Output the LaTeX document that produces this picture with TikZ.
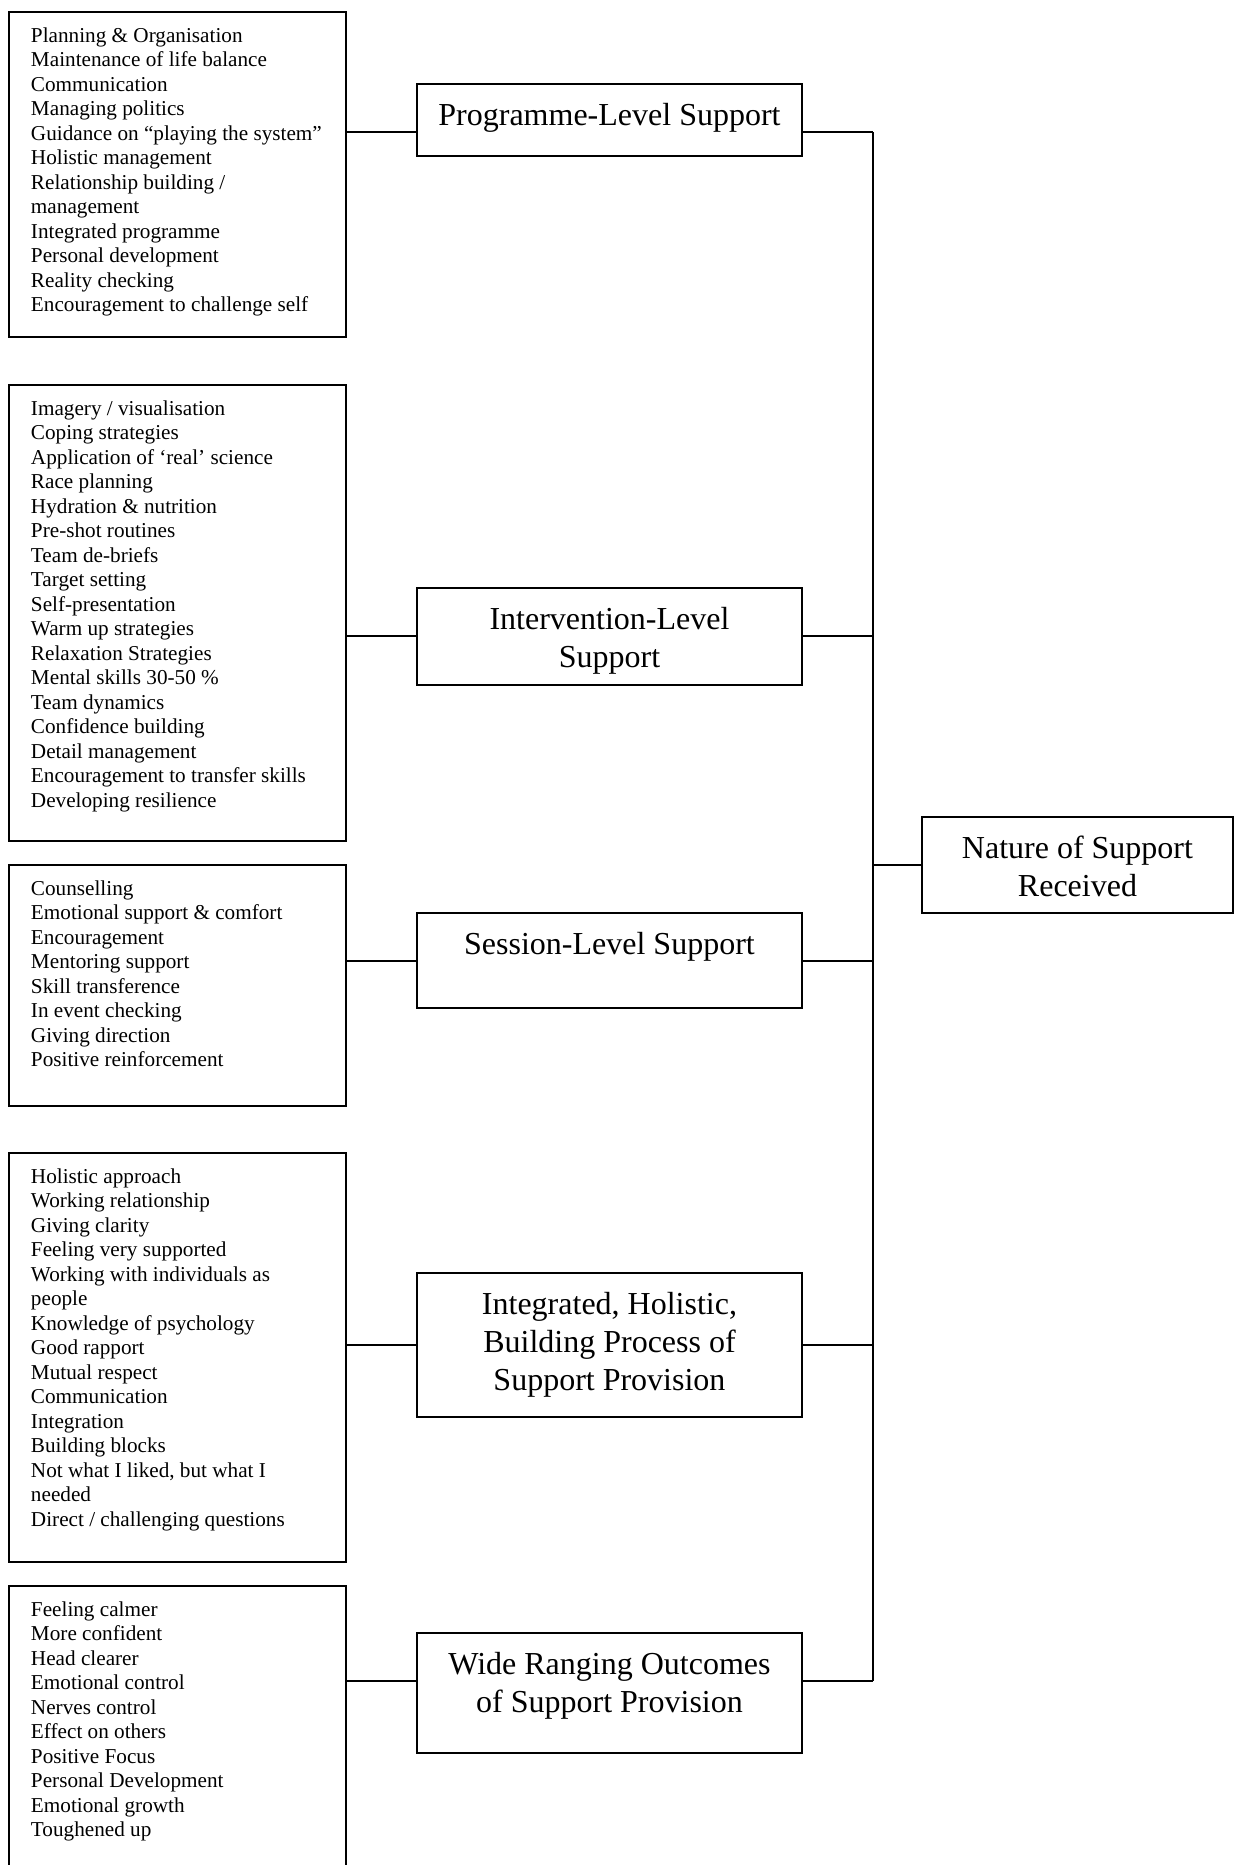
\documentclass[tikz,border=0pt]{standalone}
\usepackage{fontspec}
\setmainfont{Liberation Serif}
\begin{document}
\begin{tikzpicture}[x=0.5pt,y=-0.5pt,
  line width=1pt,
  box/.style={draw, rectangle, inner sep=0pt, outer sep=0pt, anchor=north west},
  listtext/.style={inner sep=0pt, anchor=north west, align=left,
    font=\fontsize{10.6pt}{12.25pt}\selectfont},
  headtext/.style={inner sep=0pt, anchor=north, align=center,
    font=\fontsize{16pt}{19pt}\selectfont},
]
\newcommand{\liststrut}{\rule{0pt}{8pt}}
\newcommand{\headstrut}{\rule{0pt}{12pt}}
\useasboundingbox (0,0) rectangle (1240,1865);

% ---- list boxes (left column)
\node[box, minimum width=168.5pt, minimum height=162.5pt] (L1) at (9,12) {};
\node[box, minimum width=168.5pt, minimum height=228pt]   (L2) at (9,385) {};
\node[box, minimum width=168.5pt, minimum height=120.5pt] (L3) at (9,865) {};
\node[box, minimum width=168.5pt, minimum height=204.5pt] (L4) at (9,1153) {};
\node[box, minimum width=168.5pt, minimum height=157pt]   (L5) at (9,1586) {};

\node[listtext] (L1t) at (30,25) {\liststrut Planning \& Organisation\\
Maintenance of life balance\\ Communication\\ Managing politics\\
Guidance on “playing the system”\\ Holistic management\\
Relationship building /\\ management\\ Integrated programme\\
Personal development\\ Reality checking\\ Encouragement to challenge self};

\node[listtext] (L2t) at (30,398) {\liststrut Imagery / visualisation\\
Coping strategies\\ Application of ‘real’ science\\ Race planning\\
Hydration \& nutrition\\ Pre-shot routines\\ Team de-briefs\\
Target setting\\ Self-presentation\\ Warm up strategies\\
Relaxation Strategies\\ Mental skills 30-50 \%\\ Team dynamics\\
Confidence building\\ Detail management\\
Encouragement to transfer skills\\ Developing resilience};

\node[listtext] (L3t) at (30,878) {\liststrut Counselling\\
Emotional support \& comfort\\ Encouragement\\ Mentoring support\\
Skill transference\\ In event checking\\ Giving direction\\
Positive reinforcement};

\node[listtext] (L4t) at (30,1166) {\liststrut Holistic approach\\
Working relationship\\ Giving clarity\\ Feeling very supported\\
Working with individuals as\\ people\\ Knowledge of psychology\\
Good rapport\\ Mutual respect\\ Communication\\ Integration\\
Building blocks\\ Not what I liked, but what I\\ needed\\
Direct / challenging questions};

\node[listtext] (L5t) at (30,1599) {\liststrut Feeling calmer\\
More confident\\ Head clearer\\ Emotional control\\ Nerves control\\
Effect on others\\ Positive Focus\\ Personal Development\\
Emotional growth\\ Toughened up};

% ---- category boxes (middle column)
\node[box, minimum width=192.5pt, minimum height=36pt]   (P1) at (417,84) {};
\node[box, minimum width=192.5pt, minimum height=48.5pt] (P2) at (417,588) {};
\node[box, minimum width=192.5pt, minimum height=47.5pt] (P3) at (417,913) {};
\node[box, minimum width=192.5pt, minimum height=72pt]   (P4) at (417,1273) {};
\node[box, minimum width=192.5pt, minimum height=60pt]   (P5) at (417,1633) {};

\node[headtext] (P1t) at (609.5,100) {\headstrut Programme-Level Support};
\node[headtext] (P2t) at (609.5,604) {\headstrut Intervention-Level\\ Support};
\node[headtext] (P3t) at (609.5,929) {\headstrut Session-Level Support};
\node[headtext] (P4t) at (609.5,1289) {\headstrut Integrated, Holistic,\\ Building Process of\\ Support Provision};
\node[headtext] (P5t) at (609.5,1649) {\headstrut Wide Ranging Outcomes\\ of Support Provision};

% ---- overall box (right)
\node[box, minimum width=155.5pt, minimum height=48pt] (R) at (922,817) {};
\node[headtext] (Rt) at (1077.5,833) {\headstrut Nature of Support\\ Received};

% ---- junctions on the spine
\coordinate (j1) at (873,132);
\coordinate (j2) at (873,636);
\coordinate (j3) at (873,961);
\coordinate (j4) at (873,1345);
\coordinate (j5) at (873,1681);

% ---- connectors
\foreach \i in {1,...,5}{
  \draw (L\i.east |- j\i) -- (P\i.west |- j\i);
  \draw (P\i.east |- j\i) -- (j\i);
}
\draw (j1) -- (j5);
\draw (R.west) -- (R.west -| j1);
\end{tikzpicture}
\end{document}
